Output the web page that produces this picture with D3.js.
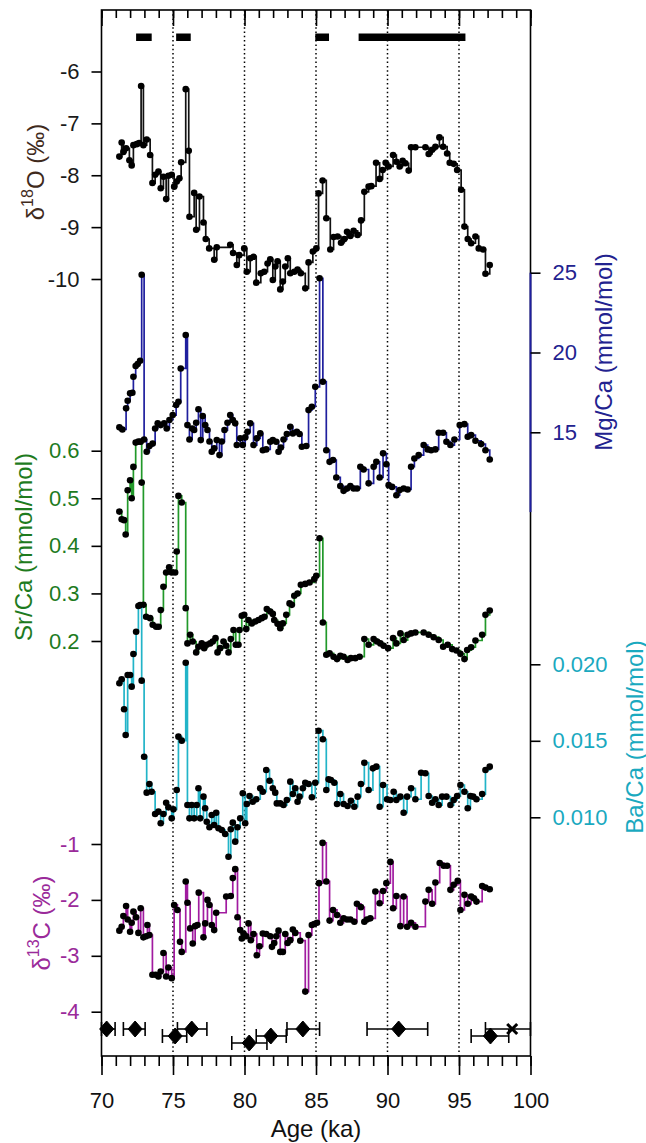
<!DOCTYPE html>
<html>
<head>
<meta charset="utf-8">
<script src="https://cdn.jsdelivr.net/npm/d3@7"></script>
<style>
  html, body { margin: 0; padding: 0; background: #fff; }
  svg { display: block; font-family: "Liberation Sans", Arial, sans-serif; }
</style>
</head>
<body>
<svg id="chart" width="646" height="1143"></svg>
<script>
// ---------------- DATA ----------------
const ageTicksMajor = [70, 75, 80, 85, 90, 95, 100];
const refLines = [75, 80, 85, 90, 95];
const d18OTicks = [-6, -7, -8, -9, -10];
const mgcaTicks = [15, 20, 25];
const srcaTicks = [0.2, 0.3, 0.4, 0.5, 0.6];
const bacaTicks = [0.010, 0.015, 0.020];
const d13CTicks = [-1, -2, -3, -4];

// hiatus / growth bars at the top (start age, end age)
const hiatusBars = [[72.42, 73.51], [75.22, 76.24], [84.95, 85.91], [87.98, 95.45]];

// U-Th ages: age, lower, upper, row, symbol
const datings = [
  [70.36, 70.0, 70.95, 0, "d"],
  [72.35, 71.53, 73.05, 0, "d"],
  [75.15, 74.26, 75.96, 1, "d"],
  [76.31, 75.31, 77.37, 0, "d"],
  [80.33, 79.11, 81.57, 2, "d"],
  [81.84, 80.82, 82.92, 1, "d"],
  [84.08, 82.97, 85.25, 0, "d"],
  [90.78, 88.57, 92.81, 0, "d"],
  [97.20, 95.85, 98.48, 1, "d"],
  [98.72, 96.85, 100.0, 0, "x"]
];

const d18O = [
[71.25,-7.64],[71.41,-7.37],[71.53,-7.55],[71.72,-7.48],[71.95,-7.71],[72.11,-7.81],[72.23,-7.42],[72.46,-7.40],[72.63,-7.38],[72.77,-6.28],
[72.93,-7.42],[73.16,-7.31],[73.40,-7.61],[73.56,-8.15],[73.75,-7.99],[73.98,-7.93],[74.14,-8.25],[74.33,-8.03],[74.52,-8.46],[74.68,-8.01],
[74.91,-7.99],[75.08,-8.22],[75.26,-8.12],[75.45,-8.06],[75.57,-7.75],[75.89,-6.34],[76.10,-7.53],[76.15,-8.80],[76.48,-8.34],[76.62,-9.05],
[76.85,-8.41],[77.13,-8.91],[77.29,-9.23],[77.53,-9.41],[77.88,-9.63],[78.06,-9.39],[79.00,-9.34],[79.20,-9.50],[79.46,-9.73],[79.63,-9.54],
[79.98,-9.41],[80.16,-9.86],[80.40,-9.60],[80.63,-9.57],[80.82,-10.07],[81.14,-9.89],[81.38,-9.86],[81.61,-9.70],[81.80,-9.62],[81.98,-10.02],
[82.15,-9.76],[82.31,-9.66],[82.50,-10.20],[82.68,-10.05],[82.85,-9.76],[83.03,-9.60],[83.20,-9.89],[83.48,-9.86],[83.71,-9.82],[83.94,-9.89],
[84.25,-10.18],[84.48,-9.68],[84.78,-9.47],[85.02,-9.41],[85.18,-8.35],[85.46,-8.10],[85.72,-8.83],[86.00,-9.43],[86.23,-9.19],[86.51,-9.18],
[86.75,-9.30],[86.98,-9.23],[87.17,-9.09],[87.40,-9.17],[87.63,-9.07],[87.91,-9.15],[88.15,-8.87],[88.38,-8.32],[88.68,-8.22],[88.87,-8.21],
[89.20,-7.76],[89.45,-8.07],[89.66,-7.90],[89.87,-7.76],[90.08,-7.83],[90.39,-7.61],[90.62,-7.74],[90.85,-7.83],[91.06,-7.72],[91.25,-7.77],
[91.48,-7.91],[91.65,-7.46],[91.95,-7.46],[92.65,-7.46],[92.88,-7.59],[93.12,-7.51],[93.35,-7.45],[93.63,-7.27],[93.89,-7.45],[94.17,-7.58],
[94.35,-7.76],[94.63,-7.78],[94.87,-7.90],[95.15,-8.28],[95.38,-8.99],[95.61,-9.23],[95.85,-9.31],[96.15,-9.18],[96.38,-9.41],[96.69,-9.43],
[96.85,-9.90],[97.15,-9.73]
];

const mgca = [
[71.25,15.31],[71.46,15.18],[71.72,16.50],[71.83,16.98],[72.00,17.44],[72.16,17.48],[72.23,18.48],[72.39,19.15],[72.53,19.28],[72.70,19.48],
[72.81,24.87],[72.98,14.55],[73.16,13.78],[73.35,14.14],[73.58,14.30],[73.75,15.24],[73.93,15.56],[74.14,15.45],[74.38,15.56],[74.56,15.24],
[74.75,15.77],[74.98,16.08],[75.22,16.71],[75.38,16.91],[75.54,19.00],[75.89,21.09],[76.01,15.45],[76.15,14.55],[76.34,15.24],[76.48,15.14],
[76.62,15.60],[76.78,16.44],[76.94,14.51],[77.08,16.02],[77.25,15.45],[77.41,15.14],[77.55,14.42],[77.71,13.78],[77.88,13.99],[78.06,14.51],
[78.25,13.57],[78.41,14.42],[78.60,15.14],[78.81,15.60],[79.00,16.08],[79.18,15.77],[79.35,15.56],[79.46,14.20],[79.70,14.62],[79.88,14.20],
[80.05,14.68],[80.21,15.03],[80.40,15.56],[80.63,14.20],[80.86,14.62],[81.10,14.93],[81.28,13.88],[81.52,13.93],[81.80,14.41],[81.98,14.51],
[82.22,14.41],[82.38,13.78],[82.54,14.05],[82.73,14.55],[82.96,14.89],[83.20,15.35],[83.38,14.93],[83.66,15.03],[83.85,14.89],[84.01,14.09],
[84.32,14.14],[84.48,16.39],[84.71,16.60],[84.95,17.85],[85.25,24.65],[85.48,18.17],[85.72,13.88],[85.95,13.15],[86.19,13.26],[86.42,12.17],
[86.70,11.63],[86.93,11.33],[87.17,11.48],[87.40,11.63],[87.63,11.48],[87.87,11.48],[88.10,12.84],[88.33,12.67],[88.68,11.80],[89.03,12.84],
[89.22,13.15],[89.45,12.17],[89.69,13.68],[89.92,13.00],[90.08,11.69],[90.32,11.58],[90.62,11.06],[90.85,11.38],[91.13,11.48],[91.41,11.42],
[91.65,12.84],[91.88,13.36],[92.18,13.57],[92.53,14.20],[92.81,13.93],[93.05,13.88],[93.35,13.93],[93.58,14.97],[93.89,14.97],[94.12,14.41],
[94.40,14.20],[94.68,14.55],[95.05,15.45],[95.38,15.51],[95.61,14.72],[95.85,14.82],[96.15,14.47],[96.55,14.26],[96.85,13.88],[97.15,13.30]
];

const srca = [
[71.25,0.472],[71.41,0.456],[71.58,0.454],[71.69,0.424],[71.83,0.517],[72.00,0.538],[72.11,0.500],[72.23,0.566],[72.39,0.617],[72.58,0.619],
[72.74,0.619],[72.81,0.533],[72.93,0.276],[73.12,0.251],[73.40,0.248],[73.58,0.234],[73.82,0.230],[74.00,0.230],[74.14,0.265],[74.33,0.314],
[74.52,0.344],[74.73,0.355],[74.91,0.344],[75.15,0.344],[75.26,0.388],[75.38,0.505],[75.61,0.491],[75.89,0.269],[76.01,0.195],[76.20,0.213],
[76.38,0.199],[76.62,0.176],[76.78,0.188],[77.01,0.195],[77.18,0.185],[77.36,0.192],[77.60,0.195],[77.78,0.199],[77.97,0.206],[78.11,0.176],
[78.30,0.185],[78.53,0.199],[78.72,0.190],[78.88,0.176],[79.04,0.204],[79.23,0.223],[79.39,0.192],[79.58,0.192],[79.65,0.223],[79.81,0.253],
[79.98,0.255],[80.12,0.225],[80.28,0.244],[80.51,0.237],[80.75,0.241],[80.98,0.244],[81.21,0.248],[81.40,0.251],[81.56,0.267],[81.80,0.262],
[81.98,0.257],[82.08,0.244],[82.31,0.236],[82.50,0.227],[82.68,0.237],[82.92,0.255],[83.15,0.279],[83.31,0.276],[83.48,0.295],[83.71,0.300],
[83.94,0.318],[84.25,0.320],[84.55,0.323],[84.88,0.330],[85.02,0.337],[85.25,0.416],[85.48,0.239],[85.72,0.171],[85.95,0.174],[86.23,0.167],
[86.47,0.162],[86.70,0.169],[86.93,0.167],[87.21,0.160],[87.44,0.164],[87.75,0.164],[88.05,0.167],[88.38,0.204],[88.68,0.192],[89.03,0.204],
[89.27,0.199],[89.50,0.195],[89.73,0.190],[90.04,0.185],[90.39,0.206],[90.62,0.195],[90.90,0.216],[91.13,0.202],[91.41,0.213],[91.65,0.216],
[91.95,0.218],[92.53,0.218],[92.88,0.213],[93.23,0.208],[93.58,0.202],[93.89,0.188],[94.21,0.192],[94.52,0.183],[94.82,0.180],[95.10,0.173],
[95.38,0.162],[95.57,0.181],[95.85,0.187],[96.15,0.201],[96.62,0.213],[96.85,0.255],[97.15,0.264]
];

const baca = [
[71.25,0.01876],[71.41,0.01902],[71.58,0.01706],[71.69,0.01538],[71.83,0.01930],[72.00,0.01930],[72.11,0.01854],[72.23,0.02067],[72.42,0.02213],[72.58,0.02381],
[72.70,0.02388],[72.81,0.01893],[72.98,0.01396],[73.16,0.01161],[73.35,0.01218],[73.51,0.01167],[73.75,0.01022],[73.98,0.01037],[74.14,0.00961],[74.33,0.01022],
[74.52,0.01095],[74.68,0.01065],[74.91,0.00993],[75.03,0.01052],[75.26,0.01178],[75.38,0.01527],[75.61,0.01501],[75.89,0.02010],[76.01,0.01080],[76.15,0.00993],
[76.31,0.01080],[76.48,0.00993],[76.66,0.01080],[76.78,0.01190],[76.90,0.00993],[77.13,0.01135],[77.25,0.01059],[77.36,0.00971],[77.55,0.00935],[77.71,0.01015],
[77.88,0.00950],[78.02,0.01030],[78.18,0.00928],[78.41,0.00917],[78.65,0.00891],[78.88,0.00742],[79.04,0.00922],[79.18,0.00965],[79.35,0.00841],[79.51,0.00935],
[79.70,0.00993],[79.88,0.01157],[80.05,0.00961],[80.16,0.01087],[80.35,0.01139],[80.58,0.01102],[80.82,0.01118],[81.10,0.01190],[81.28,0.01167],[81.52,0.01309],
[81.75,0.01239],[81.98,0.01190],[82.15,0.01161],[82.26,0.01091],[82.50,0.01091],[82.73,0.01080],[82.96,0.01113],[83.20,0.01233],[83.38,0.01152],[83.55,0.01190],
[83.71,0.01102],[83.85,0.01135],[84.08,0.01190],[84.25,0.01226],[84.48,0.01218],[84.71,0.01131],[84.95,0.01226],[85.18,0.01566],[85.48,0.01510],[85.72,0.01178],
[85.88,0.01248],[86.04,0.01244],[86.28,0.01226],[86.47,0.01087],[86.70,0.01152],[86.93,0.01087],[87.21,0.01074],[87.44,0.01108],[87.68,0.01069],[87.91,0.01135],
[88.14,0.01218],[88.38,0.01357],[88.68,0.01178],[88.98,0.01320],[89.22,0.01331],[89.45,0.01069],[89.69,0.01211],[89.97,0.01118],[90.20,0.01113],[90.43,0.01167],
[90.62,0.01113],[90.90,0.01135],[91.13,0.01030],[91.37,0.01135],[91.65,0.01190],[91.95,0.01118],[92.35,0.01291],[92.65,0.01288],[92.88,0.01139],[93.12,0.01095],
[93.35,0.01118],[93.58,0.01080],[93.82,0.01135],[94.12,0.01135],[94.40,0.01080],[94.63,0.01113],[94.87,0.01139],[95.10,0.01211],[95.38,0.01167],[95.61,0.01059],
[95.80,0.01139],[95.99,0.01135],[96.22,0.01118],[96.62,0.01152],[96.85,0.01309],[97.15,0.01331]
];

const d13C = [
[71.25,-2.55],[71.41,-2.48],[71.53,-2.29],[71.72,-2.11],[71.83,-2.35],[72.00,-2.57],[72.11,-2.41],[72.23,-2.21],[72.42,-2.31],[72.58,-2.59],
[72.74,-2.15],[72.93,-2.67],[73.12,-2.65],[73.21,-2.45],[73.35,-2.63],[73.56,-3.34],[73.79,-3.34],[73.98,-3.37],[74.14,-3.28],[74.33,-2.95],
[74.52,-3.37],[74.68,-3.21],[74.91,-3.40],[75.08,-2.09],[75.31,-2.18],[75.49,-2.75],[75.61,-2.93],[75.89,-1.67],[76.01,-2.05],[76.20,-2.51],
[76.38,-2.78],[76.55,-2.47],[76.71,-2.45],[76.80,-1.87],[77.13,-2.67],[77.25,-2.42],[77.41,-2.00],[77.55,-2.09],[77.71,-2.45],[77.88,-2.54],
[78.02,-2.23],[78.72,-1.94],[79.04,-1.93],[79.18,-1.61],[79.35,-1.45],[79.51,-2.31],[79.70,-2.54],[79.81,-2.69],[79.93,-2.60],[80.12,-2.65],
[80.28,-2.42],[80.44,-2.72],[80.63,-2.61],[80.86,-2.99],[81.05,-2.83],[81.28,-2.60],[81.52,-2.61],[81.80,-2.65],[81.92,-2.84],[82.08,-2.77],
[82.22,-2.65],[82.38,-2.55],[82.50,-2.93],[82.68,-2.93],[82.85,-2.61],[83.01,-2.77],[83.20,-2.72],[83.38,-2.53],[83.55,-2.59],[83.90,-2.73],
[84.25,-3.64],[84.48,-2.63],[84.71,-2.45],[84.88,-2.43],[85.07,-2.41],[85.21,-1.70],[85.46,-0.98],[85.72,-1.67],[85.95,-2.37],[86.19,-2.18],
[86.47,-2.27],[86.70,-2.41],[86.93,-2.33],[87.17,-2.35],[87.40,-2.35],[87.68,-2.39],[87.86,-2.07],[88.14,-2.13],[88.38,-2.39],[88.56,-2.35],
[88.80,-2.33],[89.15,-1.85],[89.45,-2.06],[89.69,-1.84],[89.92,-1.70],[90.20,-1.32],[90.39,-2.15],[90.62,-1.93],[90.90,-2.47],[91.13,-1.94],
[91.37,-2.48],[91.65,-2.41],[91.95,-2.48],[92.65,-2.03],[92.88,-1.82],[93.12,-2.07],[93.35,-1.69],[93.65,-1.34],[93.93,-1.39],[94.17,-1.39],
[94.40,-1.82],[94.63,-1.73],[94.91,-1.66],[95.10,-2.18],[95.38,-1.91],[95.61,-2.07],[95.85,-1.94],[96.04,-1.97],[96.22,-2.03],[96.62,-1.75],
[96.85,-1.78],[97.15,-1.81]
];

// ---------------- STYLE ----------------
const FONT_TICK = 22, FONT_TITLE = 24;
const colO = "#111111", colOTitle = "#3f2a1c";
const colMg = "#1f1f9e", colMgText = "#22228f";
const colSr = "#22992a", colSrText = "#1e7b1e";
const colBa = "#22b4c8", colBaText = "#1aa9bf";
const colC = "#a11ba0", colCText = "#9a2a9a";

const L = 101.5, R = 530.5, T = 10, B = 1056;

const svg = d3.select("#chart");

const x = d3.scaleLinear().domain([70, 100]).range([L, R]);
const yO  = d3.scaleLinear().domain([-6, -10]).range([71.5, 279]);
const yMg = d3.scaleLinear().domain([25, 15]).range([272.7, 432.3]);
const ySr = d3.scaleLinear().domain([0.6, 0.2]).range([450.7, 641]);
const yBa = d3.scaleLinear().domain([0.020, 0.010]).range([664.3, 817.3]);
const yC  = d3.scaleLinear().domain([-1, -4]).range([844, 1011.7]);
const yRow = d3.scalePoint().domain([0, 1, 2]).range([1029, 1043]);

// reference dotted lines
svg.append("g").selectAll("line").data(refLines).join("line")
  .attr("x1", d => x(d)).attr("x2", d => x(d))
  .attr("y1", T).attr("y2", B)
  .attr("stroke", "#000").attr("stroke-width", 1.5)
  .attr("stroke-dasharray", "1.5,2.8");

// hiatus bars
svg.append("g").selectAll("rect").data(hiatusBars).join("rect")
  .attr("x", d => x(d[0])).attr("width", d => x(d[1]) - x(d[0]))
  .attr("y", 33.5).attr("height", 7.5).attr("fill", "#000");

// series
function drawSeries(data, y, color) {
  const line = d3.line().x(d => x(d[0])).y(d => y(d[1])).curve(d3.curveStepAfter);
  svg.append("path").datum(data).attr("d", line)
    .attr("fill", "none").attr("stroke", color).attr("stroke-width", 1.7);
  svg.append("g").selectAll("circle").data(data).join("circle")
    .attr("cx", d => x(d[0])).attr("cy", d => y(d[1])).attr("r", 3.3).attr("fill", "#000");
}
drawSeries(d18O, yO, colO);
drawSeries(mgca, yMg, colMg);
drawSeries(srca, ySr, colSr);
drawSeries(baca, yBa, colBa);
drawSeries(d13C, yC, colC);

// dating markers
const dg = svg.append("g");
dg.selectAll("line.err").data(datings).join("line").attr("class", "err")
  .attr("x1", d => x(d[1])).attr("x2", d => x(d[2]))
  .attr("y1", d => yRow(d[3])).attr("y2", d => yRow(d[3]))
  .attr("stroke", "#000").attr("stroke-width", 1.6);
dg.selectAll("line.capl").data(datings).join("line").attr("class", "capl")
  .attr("x1", d => x(d[1])).attr("x2", d => x(d[1]))
  .attr("y1", d => yRow(d[3]) - 7).attr("y2", d => yRow(d[3]) + 7)
  .attr("stroke", "#000").attr("stroke-width", 1.6);
dg.selectAll("line.capr").data(datings).join("line").attr("class", "capr")
  .attr("x1", d => x(d[2])).attr("x2", d => x(d[2]))
  .attr("y1", d => yRow(d[3]) - 7).attr("y2", d => yRow(d[3]) + 7)
  .attr("stroke", "#000").attr("stroke-width", 1.6);
dg.selectAll("path.sym").data(datings).join("path").attr("class", "sym")
  .attr("transform", d => `translate(${x(d[0])},${yRow(d[3])})`)
  .attr("d", d => d[4] === "d" ? "M0,-8L7,0L0,8L-7,0Z" : "M-5,-5L5,5M-5,5L5,-5")
  .attr("fill", d => d[4] === "d" ? "#000" : "none")
  .attr("stroke", "#000").attr("stroke-width", d => d[4] === "d" ? 1 : 3);

// frame
svg.append("rect").attr("x", L).attr("y", T).attr("width", R - L).attr("height", B - T)
  .attr("fill", "none").attr("stroke", "#000").attr("stroke-width", 1.6);
// blue Mg/Ca axis segment on the right
svg.append("line").attr("x1", R).attr("x2", R).attr("y1", yMg(25)).attr("y2", yMg(10))
  .attr("stroke", colMg).attr("stroke-width", 2);

const fmtPlain = d => String(d).replace("\u2212", "-");

function styleAxis(g, textColor, size) {
  g.select(".domain").remove();
  g.selectAll(".tick line").attr("stroke", "#000").attr("stroke-width", 1.6);
  g.selectAll(".tick text").attr("fill", textColor).attr("font-size", size)
    .attr("font-family", '"Liberation Sans", Arial, sans-serif');
}

// left axes
svg.append("g").attr("transform", `translate(${L},0)`)
  .call(d3.axisLeft(yO).tickValues(d18OTicks).tickSize(10).tickPadding(12).tickFormat(d => String(d)))
  .call(g => styleAxis(g, "#1a1a1a", FONT_TICK));
svg.append("g").attr("transform", `translate(${L},0)`)
  .call(d3.axisLeft(ySr).tickValues(srcaTicks).tickSize(10).tickPadding(12).tickFormat(d3.format(".1f")))
  .call(g => styleAxis(g, colSrText, FONT_TICK));
svg.append("g").attr("transform", `translate(${L},0)`)
  .call(d3.axisLeft(yC).tickValues(d13CTicks).tickSize(10).tickPadding(12).tickFormat(d => String(d)))
  .call(g => styleAxis(g, colCText, FONT_TICK));

// right axes
svg.append("g").attr("transform", `translate(${R},0)`)
  .call(d3.axisRight(yMg).tickValues(mgcaTicks).tickSize(10).tickPadding(12).tickFormat(d => String(d)))
  .call(g => styleAxis(g, colMgText, FONT_TICK));
svg.append("g").attr("transform", `translate(${R},0)`)
  .call(d3.axisRight(yBa).tickValues(bacaTicks).tickSize(10).tickPadding(12).tickFormat(d3.format(".3f")))
  .call(g => styleAxis(g, colBaText, FONT_TICK));

// bottom axis
const minorAges = d3.range(70, 101, 1);
svg.append("g").attr("transform", `translate(0,${B})`)
  .call(d3.axisBottom(x).tickValues(minorAges).tickSize(10).tickFormat(""))
  .call(g => styleAxis(g, "#000", FONT_TICK));
svg.append("g").attr("transform", `translate(0,${B})`)
  .call(d3.axisBottom(x).tickValues(ageTicksMajor).tickSize(19).tickPadding(17).tickFormat(d => String(d)))
  .call(g => styleAxis(g, "#111", FONT_TICK));

// top axis (inward ticks)
svg.append("g").attr("transform", `translate(0,${T})`)
  .call(d3.axisTop(x).tickValues(minorAges).tickSize(-8).tickFormat(""))
  .call(g => styleAxis(g, "#000", FONT_TICK));
svg.append("g").attr("transform", `translate(0,${T})`)
  .call(d3.axisTop(x).tickValues(ageTicksMajor).tickSize(-16).tickFormat(""))
  .call(g => styleAxis(g, "#000", FONT_TICK));

// titles
function vTitle(cx, cy, color) {
  return svg.append("text")
    .attr("transform", `translate(${cx},${cy}) rotate(-90)`)
    .attr("text-anchor", "middle").attr("dominant-baseline", "central")
    .attr("font-size", FONT_TITLE).attr("fill", color);
}
const tO = vTitle(35, 172, colOTitle);
tO.append("tspan").text("δ");
tO.append("tspan").attr("dy", -8).attr("font-size", 16).text("18");
tO.append("tspan").attr("dy", 8).text("O (‰)");

vTitle(23, 547, colSrText).text("Sr/Ca (mmol/mol)");

const tC = vTitle(41, 923, colCText);
tC.append("tspan").text("δ");
tC.append("tspan").attr("dy", -8).attr("font-size", 16).text("13");
tC.append("tspan").attr("dy", 8).text("C (‰)");

vTitle(603, 352, colMgText).text("Mg/Ca (mmol/mol)");
vTitle(634, 737, colBaText).text("Ba/Ca (mmol/mol)");

svg.append("text").attr("x", (L + R) / 2).attr("y", 1137)
  .attr("text-anchor", "middle").attr("font-size", FONT_TITLE).attr("fill", "#111")
  .text("Age (ka)");
</script>
</body>
</html>
